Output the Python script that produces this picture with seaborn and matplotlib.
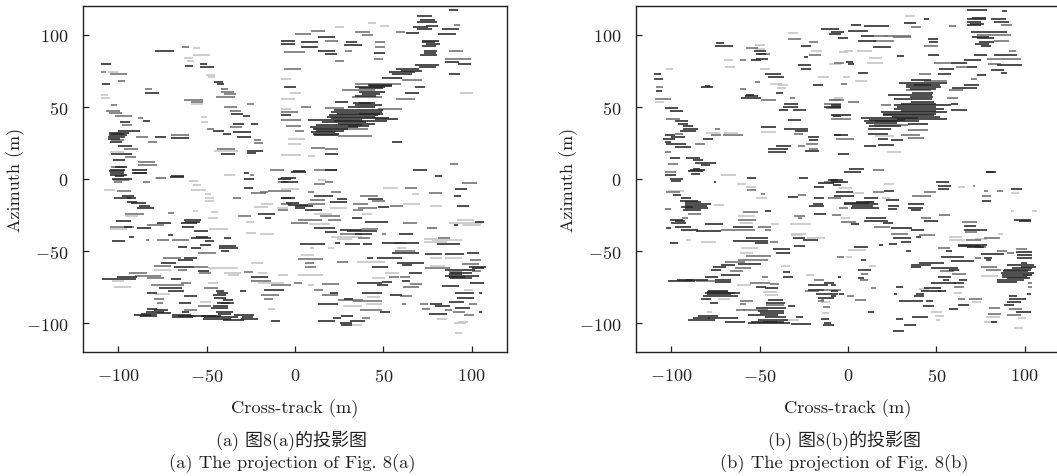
import matplotlib
matplotlib.use('Agg')
import matplotlib.pyplot as plt
import pandas as pd
import seaborn as sns

############
# Parameters
############
sns.set_theme(style='white')
plt.rcParams['font.family'] = ['cmr10', 'Noto Sans CJK SC', 'DejaVu Sans']
plt.rcParams['mathtext.fontset'] = 'cm'
plt.rcParams['axes.unicode_minus'] = True
plt.rcParams['axes.formatter.use_mathtext'] = True

X_LABEL = 'Cross-track (m)'
Y_LABEL = 'Azimuth (m)'
X_TICKS = [-100, -50, 0, 50, 100]
Y_TICKS = [-100, -50, 0, 50, 100]
CAPTION_CN = ['(a) 图8(a)的投影图', '(b) 图8(b)的投影图']
CAPTION_EN = ['(a) The projection of Fig. 8(a)', '(b) The projection of Fig. 8(b)']
TONES = {'light': '#c4c4c4', 'mid': '#6e6e6e', 'dark': '#262626'}

######################################
# Dashes: x0, x1, y
######################################
a_dark = [
(-110,-104,80),(-109,-105,66),(-79.5,-68.5,89),(-54,-50,80),(-62,-58,78.5),(-54,-46,78),(-46,-41,67.5),(-44,-40,66),
(-85,-77,60),(-36,-29.5,45),(-29.5,-25.5,44),(-35,-29,38),(-25,-21,38),(-46.5,-40,33.5),(-35,-25,32.5),(-41,-36,31.5),
(-33,-25,29),(-42,-34,17.5),(-27,-18,19.5),(-27,-22,18),(-99,-93.5,39.5),(-100,-88,33.5),(-105.5,-94,32),(-105.5,-95,30.5),
(-106,-96,29),(-106,-99,27.5),(-100,-92,22.6),(-104,-92,17),(-104.5,-96,6.5),(-104.5,-97,4.5),(-92,-84,4.5),(-102,-97,2),
(-70,-63,2),(-79,-73,29),(-70,-60,28.4),(-86,-82,40),(-8,0,93.7),(-8,0,95.4),(3.5,13,95),(13,22.5,98.4),(3.5,13,91.4),
(13,22.5,89),(17,23.5,86.8),(29,35,95),(28,38,93),(44.5,51,87.5),(63,70,101.4),(69,77.5,113.4),(69,80.5,108.7),(67,75.5,105.3),
(69,77.5,103.7),(83,93,104),(81,91,100.7),(87,92,117.3),(72,81.5,96),(74,82,93.8),(73,80.5,89),(71,80.5,85.7),(92,99.5,80),
(85,93,81),(87,93.5,73),(53,68,74),(57,70,76),(68,81.5,78.8),(49,60.5,70),(68,73.5,63.8),(62,70,59.8),(34,51,63.8),
(41.5,55,65.4),(36,51,60.3),(22.5,30,53.4),(34,49,51),(36,43,52.8),(20.5,49,46.5),(19,47,44.2),(20.5,53,42.3),(45,58.5,41.4),
(7.5,37.7,40.7),(24.5,45,38.4),(8.3,35.8,36),(9.2,22.5,32.6),(11,24.5,30.3),(54.8,60.5,25.7),(17,24.5,17.6),(67,74.7,6),
(-2,6.4,5),(79.5,83.2,2.2),(-6,0.7,63.8),(-8,-2,44.2),(-105.4,-97,5.4),(-104.5,-95,3),(-103.5,-92,-0.3),(-92,-83.6,6),(-91,-84.5,4),
(-70.7,-62.7,1.5),(-97.8,-91.2,-11.6),(-102.6,-93,-13.5),(-95,-89.3,-15.8),(-93,-84.5,-16.7),(-89.3,-79.8,-20),(-88.5,-82,-18.6),
(-101.6,-93,-29),(-78,-70.4,-30.3),(-97,-92,-33.3),(-89.3,-81.7,-34.3),(-62.7,-53.3,-28.5),(-64.7,-55.2,-30.3),(-63.7,-57,-33),
(-57,-49.5,-35.9),(-56,-49.5,-40),(-59,-47.6,-41),(-51,-45.7,-43),(-103.5,-96,-43),(-94,-91,-40.5),(-72,-69,-39),(-54,-47.6,-45.8),
(-66.5,-61,-47.2),(-59,-53.3,-48),(-42.8,-33.4,-46.2),(-42.8,-32.4,-48),(-42,-37.2,-49.7),(-40,-36,-40.7),(-62.7,-55.2,-54.6),
(-66.5,-58,-56),(-76,-67.5,-58),(-68.4,-57,-60.8),(-55,-48.5,-63.5),(-100.7,-89.3,-67.7),(-109,-107,-69.4),(-107,-90,-69.4),
(-70.4,-64.7,-69.6),(-77,-63.7,-75.8),(-72,-62.7,-77.4),(-83.6,-78,-78.8),(-62.7,-55.2,-81.5),(-65.6,-59,-85.7),(-44.8,-40,-77.4),
(-46.6,-39,-80.4),(-45.7,-39,-82.7),(-41,-35.3,-84),(-42,-34.3,-85.7),(-46.6,-38,-87.8),(-47.6,-38,-89.6),(-83.6,-78,-90.3),
(-84.6,-74,-92),(-87.4,-78,-93.5),(-91.2,-81.7,-94.2),(-78,-70.4,-93),(-69.4,-59,-94.2),(-63.7,-60,-92),(-69.4,-58,-96),
(-53.3,-42,-94.7),(-51.4,-32.4,-96),(-43.8,-36.2,-93.3),(-41,-28.6,-97.7),(-34.3,-23,-94.2),(-30.5,-21,-97),(-13.5,-8.7,-98.8),
(-24.8,-15.3,-67.7),(-17.3,-6,-77),(-31,-28,-77.4),(-21,-11.6,-24.6),(-17,-13.4,-27.3),(-28.6,-23,0),(-28.6,-24,-6.4),(-9.7,-2,-0.3),
(-8,-2,-13.5),(-29,-26,4.3),(-8,0.7,0.4),(-8,1.7,-2.4),(-1,5.5,5.4),(17,23.5,6),(90.8,97.5,-6.6),(90,94,-11.6),(11,21.6,-11.6),
(-8,-0.2,-13.5),(-4,7.4,-18),(0,5.5,-20.4),(5.5,15,-21.6),(19.7,29.2,-15.8),(23.5,29.2,-14),(41.5,50,-14),(47,53,-19.7),(91.7,98.4,-18.6),
(32,37.7,-27.3),(11,22.5,-33.8),(16.9,23.5,-36.6),(25.4,37.7,-35.4),(29.2,46.2,-36),(39.6,52.9,-29.6),(102,106.9,-29.6),(90,92.5,-32),
(34,43.4,-38.4),(58.6,67,-38.4),(2.6,16.9,-45),(28.2,36.8,-45),(38.6,43.4,-45),(22.5,25.4,-44.6),(49,70,-44.6),(80.4,93.6,-45.3),
(54.8,70,-51.6),(73.7,83.2,-51.8),(85,95.5,-52.3),(97.5,104,-51.6),(46.2,60.5,-54.6),(40.5,44.4,-54.6),(57.6,72.8,-58.5),(60.5,66,-59.6),
(43.4,52.9,-60.8),(98.4,107.9,-60.8),(85,102,-63),(64.3,71.8,-65.4),(85,104,-67),(87,94.6,-66),(87,96.5,-68),(60.5,65.2,-71),
(35,49,-72.3),(46.2,52.9,-73.5),(49,54.8,-71.2),(83,92.7,-74),(99.3,106.9,-72.3),(19.7,24.5,-79.2),(37.7,49,-78.8),(53.8,60.5,-80.4),
(90.8,101.2,-79.2),(91.7,101.2,-82.7),(104,106,-79),(87,95.5,-85),(76.6,83.2,-86.9),(79.5,88,-88),(13,24.5,-86.9),(28,33,-83.4),
(90.8,99.3,-89.6),(104,106,-92),(48,53.8,-92.4),(75.6,86,-93.8),(26.3,33,-95),(21.6,26.3,-96.5),(31,39.6,-98.8),(13,22.5,-98.4),
(25.4,32,-100),(26.3,32,-101.6),
(22,50,47.8),(24,48,45.3),(18,45,43.2),(22,52,40),(15,40,39.4),(12,38,37.2),(10,30,35),(12,28,33.5),(10,25,31.5),(30,42,37),
(36,50,45),(30,45,49.8),(33,45,53),(36,50,62.8),(38,48,59),(34,46,57.8),(42,55,64.5),(55,66,72.8),(60,72,75),(70,80,77.5),
(72,80,92),(73,80,87.5),(74,81,106.3),(71,79,110),(72,79,94.8),(-105,-98,25.5),(-104,-97,31),(-103,-96,13),(-102,-95,8),
(-60,-45,-95),(-52,-36,-97),(-45,-35,-92),(-80,-72,-91),(-88,-78,-95),(-66,-57,-95),(-44,-37,-86),(-44,-38,-79),(-30,-24,-96),
(-95,-90,-13),(-62,-54,-29.5),(100,107,-62),(88,100,-65.5),(88,100,-68.5),(0,10,-19),(-5,2,-16.5),
]
a_mid = [
(-110,-107,74.5),(-104.5,-95,73),(-100,-96,68),(-85,-81,62.5),(-64,-60,91.5),(-42,-38,62.5),(-42,-34.5,60.5),(-40,-33.5,59),
(-45,-34,57),(-63,-52,55),(-59,-52,53.5),(-27,-23,52),(-40,-33,50),(-37,-30.5,47.3),(-37,-30,36),(-50,-46,34.5),(-44,-34,21),
(-23,-19,27),(-23,-18,24.7),(-107,-99,47.5),(-104,-101,51),(-105.5,-98,45.7),(-102,-92,44),(-98,-92,37.7),(-104,-97,27),
(-97,-89,21),(-96,-90,15.2),(-89,-79,12),(-104,-96,8.5),(-89,-78,10),(-103,-94,-0.5),(-90,-83,29),(-83,-78,26),(-70,-60,30.7),
(-89,-86,42),(0,9,100.7),(9,17,103),(17,24.5,95.4),(-6,5.5,88.4),(28.5,32,89),(22.5,28,82),(44.5,50,83.4),(34,42.5,102.3),
(38,44,100),(45.5,51,95),(45.5,51,91.4),(57,62,101.8),(87,95,89),(85,99.5,83.4),(90,93.5,106.9),(-6,3.5,76.5),(-8,1.7,46.5),
(-8,3.5,40.7),(-5,3.5,36.7),(0,5,33),(3.5,9,50),(34,60,66),(26.5,45,62),(32,49,56.8),(57,68,55.7),(17,28,49.2),(47,60.5,48.8),
(60.5,72,68.4),(24.5,43.4,29.5),(11,41.5,34.5),(9,17,21.5),(17,24.5,20.6),(88,92.5,10.7),(11,23.5,6),(-102.6,-98,-2.4),(-86,-82,-2.4),
(-78.9,-73,0.4),(-100.7,-93,-8.4),(-96,-85.5,-24),(-83.6,-74,-32),(-104.5,-91,-33),(-72,-68.4,-23.4),(-78,-71.3,-42.3),(-84.5,-82.5,-42.3),
(-69.4,-60,-42.3),(-55,-44.8,-51.6),(-75,-64.6,-55),(-80,-70,-60),(-57,-49.5,-61.2),(-66.5,-61,-63),(-54.2,-47.6,-65.4),(-94,-83.6,-65.4),
(-90.3,-76,-67),(-83.6,-74,-68.4),(-81.7,-62.7,-73.5),(-64.7,-59,-72.3),(-79.8,-74,-83.2),(-78,-75,-86.2),(-51.4,-43.8,-75.3),(-55,-47.6,-88),
(-62.7,-55.2,-90.8),(-28.6,-24,-64.5),(-24.8,-13.5,-70.5),(-19,-9,-80.4),(-13.5,-2,-73.5),(-17.3,-12.5,-83.4),(-32.4,-25,-25.7),
(-35.3,-30.5,-13.5),(-25,-16.3,-10),(-20,-15.3,-8.9),(-15.3,-2,-8.4),(-14.4,-6,6),(-9.7,-4,-2.4),(-8,-2,-17),(-9.7,-4,-21.5),(-25.7,-23,3),
(11,17,-3.6),(17,21.6,-2.2),(7.4,11,-8.9),(94.6,103,-3),(62.4,69,-6),(75.6,83,-10),(20.5,26.3,-9),(8.3,16.9,-14.6),(7.4,17,-17.6),
(36.8,47.2,-11.6),(43.4,51,-15.3),(33,41.5,-17.6),(35.8,46.2,-20.4),(33,38.6,-21.6),(53.8,61.4,-18.8),(14,25.4,-25.7),(18.7,26.3,-28.5),
(1.7,15,-28.5),(-2,7.4,-30.8),(37.7,47.2,-35),(25.4,37.7,-38.4),(49,51.5,-38.4),(35.8,42.5,-41.2),(81,88,-40.7),(61.4,69,-30.8),
(74.7,80.5,-33.8),(56,63,-44.6),(56.6,68,-50),(1.7,15.9,-55.5),(94.6,104,-59),(99.3,105.2,-56.2),(100,105,-63.5),(5.5,11,-58.5),(5.5,12,-61.2),
(23.5,30,-57.6),(73.7,88,-61.5),(87,94.6,-64.5),(53,58.6,-68),(59.5,65,-68),(61.4,70,-74.6),(65,72,-73),(15,25,-73),(-0.5,4,-72.3),
(11,16,-76.7),(15,24.5,-80.4),(59.5,66,-81.5),(24.5,38.6,-83.9),(33,49,-84.5),(98.4,103,-87),(71,75,-86.6),(60.5,63,-87),(36.8,49,-90.8),
(85,89,-91.2),(72,76.6,-90.3),(89.7,96.5,-92.4),(95.5,101.2,-94.2),(37.7,42.5,-96.5),
]
a_light = [
(-106,-100,74.5),(-110,-106,58),(-110,-105,56.5),(-58,-54,90.7),(-58,-48,86),(-63,-58,84),(-61,-57,82),(-50.5,-45.5,72),(-49.5,-45.5,70.5),
(-59,-52,52),(-53,-50,43),(-53,-49.5,39.7),(-46,-32,19.5),(-105,-97,18.5),(-79,-74,0.5),(22.5,28,105.3),(41.5,46,108),(48,53,106),
(-4,5.5,28),(-4,3.5,24),(-8,3.5,16.5),(7.5,11.5,16),(93.6,101,59.6),(-3,3.5,60),(-8,-2,48.5),(-8,0,55.7),(-8,-2,69.5),(-60,-55,-1.5),
(-58,-53,-4.4),(-59,-50.4,-7.7),(-51,-47.5,-10.7),(-51,-45.7,-13.5),(-51,-45.7,-15.3),(-108,-102,-7.8),(-96,-89,-26),(-105,-95,-35),
(-48.5,-38,-35),(-47.5,-43.8,-22.7),(-49.5,-43.8,-27.3),(-58,-55,-22),(-80,-70,-63),(-49.5,-32.4,-62),(-40,-30.5,-65),(-38,-31.5,-66.5),
(-103.5,-97,-71),(-102.6,-93,-74.6),(-79,-71,-80),(-49.5,-43.8,-72.3),(-54,-47.6,-85),(-25,-18,-58.5),(-21,-16,-65),(-21,-6,-72.3),
(-9.7,-4,-66.7),(-15.3,-11.5,-90.3),(-28,-22,-37.6),(-20,-12,-38.3),(-28,-23,-30),(-23,-15.3,-19.3),(-19,-12.5,-17),(-40,-34,2.7),
(-10,-4,-20),(-8,2.5,-7),(13,17.7,-0.5),(50,58.5,-6),(66,70,-10.7),(19.7,29.2,-20),(11,21,-24),(37.7,43.4,-24),(61.4,70.9,-17.2),
(76.6,83.2,-18.8),(8,20,-31),(91.7,101.2,-28.5),(87,106,-30.8),(94.6,105,-32),(20.5,37.7,-40),(23.5,32,-41.6),(73,80.5,-41.5),
(77.5,94.6,-42),(73,86,-44),(8.3,11,-48),(18.7,22,-48),(57.6,63,-48),(1.7,15.9,-66.6),(3.5,11,-53),(76.6,83.2,-54.6),(85,94.6,-54.6),
(34.9,51,-57.6),(76.6,85,-60),(43.4,51,-68.4),(51,58.6,-65.4),(7.5,11,-73.5),(40.5,48,-81.7),(95.5,101,-77),(27,37.7,-87.8),
(40,49,-87),(92,98,-99),(80.4,86,-97),(90,97,-100),(90.8,94.5,-106.5),(32,38,-101.6),
]

######################################
# Dashes: x0, x1, y
######################################
b_dark = [
(-109.8,-105.6,72.8),(-109.8,-104.7,69.5),(-108.4,-105.5,60.7),(-83,-76.4,63.8),(-81,-78,64.5),(-75.5,-65,92.6),(-74.5,-70,94.2),
(-53,-46.3,89),(-52,-46.3,86.8),(-52,-45.4,83.4),(-54.8,-49,82.2),(-47.2,-37.8,73),(-45.4,-36,70.7),(-40.6,-36.9,59.6),(-58.5,-51,57.5),
(-60.4,-49,56.2),(-57.6,-53,58.5),(-36,-28.4,52.2),(-37,-28.4,50),(-38.8,-34,47.6),(-31.2,-23.7,47.6),(-34,-26.5,40.7),(-49,-40.6,36),
(-36,-22.8,35),(-30,-22.8,33.3),(-82,-76.4,27.5),(-22.8,-16.2,29.2),(-21.8,-17,27),(-24.6,-16.2,19.2),(-45.4,-34,21),(-45.4,-35,18.8),
(-40.6,-32.2,23),(-103.7,-96,49.2),(-100.9,-93.4,47),(-98,-90.5,40),(-96,-90.5,38.4),(-93.4,-87.7,36.8),(-93.4,-84.9,34.5),(-103.7,-98,30.3),
(-104.7,-98,28),(-103.7,-100,26),(-102.8,-91.5,24),(-98,-88.7,22.2),(-100.9,-95.2,14.6),(-91.5,-84,14.6),(-87.7,-82,13.5),(-86.8,-74.5,11.4),
(-83,-78.3,10),(-89.6,-81,6),(-87.7,-84,7),(-8.6,-4,44),(-7.7,-4,30.3),(-15.2,-4.9,104.1),(-10.5,-4,100.7),(-26.5,-20.9,92.6),(-25,-22.5,84.5),
(-28.4,-20.9,78.8),(-26.5,-20.9,76.5),(-20,-14.3,64.9),(-13.4,-4,50),(-9.6,-2,101.8),(-5.8,-0.2,97.7),(1.7,7.3,106.9),(-0.2,11.1,103),
(9.2,23.4,106),(7.3,14.9,99.5),(5.5,15.8,96),(14,24.3,91.9),(31.8,38.4,108.3),(43,46,111),(45,50.7,97.2),(46,50.7,95),(45,51.6,86.1),
(28,31.8,85.2),(67.6,78.9,117.5),(68.5,78,120),(67.6,78,111),(67.6,75.1,108.8),(67.6,75.1,106.5),(80.8,89.3,111),(82.7,91.1,109.2),
(87,90.2,116.8),(69.5,90.2,101.8),(73.3,82.7,97.7),(74.2,82.7,95),(75,81,92.6),(71.4,78.9,85.7),(82.7,95.9,85.7),(65.7,75.1,82.2),
(58.2,67.6,80.6),(84.5,98.7,78.8),(80.8,88.3,75.8),(86.4,90.2,73.7),(67.6,73,77.5),(51.6,60.1,76),(50.7,58.2,73),(73.3,78,72.3),
(35.6,46.9,68.4),(29,56.3,66.8),(32.8,52.5,63.8),(37.5,47,65.4),(65.7,74.2,64.9),(59.1,73.3,63),(35.6,47.8,58),(22.4,35.6,58),(26.2,47.8,55.7),
(35.6,48.8,53.4),(58.2,62,52),(26.2,58.2,51),(26.2,54.4,48.8),(58.2,67.6,47.6),(18.6,56.3,46.5),(19.6,48.8,44.2),(7.3,39.4,42.3),(9.2,28,40),
(28,56.3,41.8),(33.7,45,38.4),(11.1,24.3,34.9),(11.1,22.4,31.5),(16.8,22.4,27.5),(24.3,30.9,26.8),(16.8,26.2,23.4),(9.2,15.8,22.7),
(-7.7,-0.2,30.3),(-5.8,0.8,17.6),(-9.6,-4,51.5),(-9.6,-4,49.8),(-9.6,1.7,44.2),(0.8,9.2,7.2),(-2,7.3,5),(78,82.7,5),(-1,3,81),(0,3.5,79.5),
(5.5,11.1,73.7),(-103.7,-97.1,3.1),(-100.9,-93.4,0.3),(-100,-94.3,-1.5),(-90.5,-82,5.4),(-88.7,-84,3.8),(-76,-74.5,-2.4),(-57,-52,0.4),
(-27.5,-22.8,0.4),(-99,-94.3,-11),(-94.3,-88.7,-13.5),(-95.2,-84.9,-15),(-92.4,-77.4,-17),(-94.3,-87.7,-19.3),(-92.4,-79.2,-20.4),(-93.4,-83,-21.6),
(-100.9,-93.4,-28.5),(-100,-91.5,-30.3),(-102.8,-100,-34.3),(-98,-88.7,-33),(-94.3,-84.9,-35.4),(-81.1,-70.8,-31.5),(-85.8,-71.7,-36),
(-65.1,-53.8,-33.6),(-47.2,-43.5,-22.3),(-100.9,-96.2,-44.6),(-65.1,-45.4,-42.8),(-57.6,-45.4,-41.2),(-52.9,-45.4,-44.6),(-31.2,-24.6,-41.2),
(-25.6,-17.1,-42.4),(-30.3,-24.6,-46.2),(-42.5,-33.1,-48.8),(-40.6,-33.1,-51),(-71.7,-64.2,-59.6),(-62.3,-49,-59.2),(-76.4,-68.9,-61.2),
(-77.4,-71.7,-63),(-71.7,-61.4,-66.6),(-81.1,-73.6,-67.7),(-101.8,-86.8,-70.7),(-91.5,-79.2,-70),(-75.5,-66.1,-70),(-75.5,-66.1,-71.6),
(-36.9,-33.1,-64.7),(-36.9,-31.2,-68.2),(-52,-46.3,-74.6),(-47.2,-39.7,-75.3),(-79.2,-67.9,-77.6),(-81.1,-64.2,-79.2),(-82,-62.3,-80.9),
(-68,-61.4,-79.2),(-83,-77.4,-83.2),(-78.3,-73.6,-86.2),(-45.4,-37,-83.9),(-46.3,-35.9,-85.7),(-52,-35,-89.6),(-34,-30,-88.4),(-51,-36,-91.9),
(-56.6,-39.7,-94.2),(-47.2,-35,-95.8),(-84.9,-73.6,-95),(-90.5,-75.5,-97.7),(-79.2,-62.3,-96.5),(-69.8,-58.5,-98.9),(-56.6,-33.1,-100),
(-51,-34,-97.7),(-32.2,-20.9,-100.7),(-29.3,-25.6,-95.4),(-15.2,-10.5,-97.2),(-14.3,-7.7,-101.6),(-13.4,-9.6,-100),(-22.8,-11.5,-73.5),
(-13.4,-7.7,-72.3),(-22.8,-13.4,-77),(-18,-5.8,-80),(-17,-11.5,-82.3),(-11.5,-7.7,-82.3),(-19,-13.4,-13.5),(-21.8,-13.4,-18.6),(-20,-14.3,-17),
(-19,-12.4,-24),(-34,-28.4,-12.3),(-17,-7.7,-3.1),(-19,-13.4,-5.4),(-11.5,-5.8,-0.8),(-9.6,-3,-0.8),(-9.6,-0.2,-2.4),(-8.6,-4,-4.3),
(49.7,57.2,-2.4),(50.7,58.2,-4.7),(50.7,57.2,-7),(78,83.6,5),(20.5,26.2,-8.4),(-6.8,2.6,-8.9),(-7.7,3.6,-11.6),(9.2,16.8,-13.5),(4.5,14.9,-15.8),
(-2,16.8,-17.6),(21.5,29,-14.6),(22.4,29,-18.6),(22.4,28,-20.9),(1.7,17.7,-20),(33.7,43.1,-17.6),(33.7,42.2,-20),(35.6,41.2,-21.6),
(43.1,50.7,-29),(10.2,21.5,-26.9),(9.2,22.4,-29.2),(19.6,25.2,-30.8),(1.7,6.4,-31.5),(24.3,36.5,-34.3),(35.6,43.1,-35.4),(25.2,35.6,-41.2),
(30,35.6,-43.5),(23.4,28,-45),(32.8,35.6,-49.7),(38.4,41.2,-40),(3.6,11.1,-47.4),(17.7,19.6,-45.8),(7.3,10.2,-56.2),(5.5,13,-63),(5.5,9.2,-68.4),
(-5.8,-4,-68.2),(-9.6,-6.8,-73.5),(-9.6,-5.8,-78),(-9.6,-6.8,-81.5),(-4.9,-2,-80),(27,30.9,-75),(26.2,28,-80),(29,42.2,-84.3),(44,48,-84.5),
(42.2,48.8,-88),(11.1,14.9,-92.6),(27,30.9,-97),(36.5,45,-95.4),(31.8,38.4,-101.6),(25.2,31.8,-105.7),(65.7,72.3,-32.4),(65.7,78.9,-35.4),
(62,78.9,-45.8),(67.6,77,-47),(55.4,59.1,-49.7),(75.1,88.3,-52.3),(52.5,65.7,-53.9),(58.2,71.4,-56.6),(77,81.7,-54.6),(78,80.8,-56.2),
(35.6,46.9,-59.6),(35.6,41.2,-60.8),(40.3,54.4,-58.5),(46.9,62,-61.5),(57.2,62.9,-63),(50.7,58.2,-67.7),(53.5,57.2,-70),(62.9,67.6,-70),
(60,65.7,-72.3),(46.9,61,-72.3),(43.1,52.5,-75.3),(41.2,52.5,-77.6),(50.7,55.4,-78),(38.4,43.1,-80),(37.5,43.1,-81),(62,68.5,-87.3),(57.2,62,-90.3),
(80.8,84.5,-99.3),(91.1,100.6,-83.2),(90.2,97.7,-85),(88.3,94,-87.3),(95,103.4,-92.6),(101.5,103.4,-80),(91.1,95.9,-81),(95,104.3,-50.4),
(95.9,104.3,-52.7),(95.9,104.3,-55),(90.2,105.3,-59.6),(97.7,106.2,-60.8),(88.3,103.4,-63),(86.4,105.3,-65.4),(87.4,101.5,-67.7),(84.5,99.6,-70),
(84.5,95.9,-71.6),(97.7,101.5,-58.5),(94,103.4,-28.5),(96.8,103.4,-29.2),(92,98.7,-7),(76,81,-15),
(20,50,45.3),(25,52,43),(12,32,41),(10,28,38.8),(12,30,36.5),(28,50,49.8),(30,50,47.5),(30,50,52.3),(35,48,56.8),(36,48,59.5),
(33,52,65.5),(35,50,62.7),(15,40,40.5),(70,80,98.5),(72,80,93.8),(70,78,112),(69,77,107.6),(88,102,-64),(87,104,-66.5),(90,103,-69),
(93,104,-62),(-50,-36,-93),(-48,-36,-99),(-55,-40,-99),(-88,-78,-96.5),(-80,-66,-80),(-80,-68,-78.5),(-97,-88,-70.2),(-100,-92,29),
(-95,-86,33.5),(-92,-83,-16),(-92,-80,-18.6),(-98,-92,-29.3),(-2,12,-16.5),(2,14,-19),(62,75,-46.8),
]
b_mid = [
(-108.4,-104.7,63.8),(-109.4,-100,55.2),(-57.6,-51,91),(-51,-44.4,87),(-61.4,-57.6,82.2),(-52.9,-50,67),(-61.4,-57.6,62.5),(-33,-30,56.4),
(-49,-41,55),(-102.8,-95.2,41.8),(-98,-93.4,31.5),(-77.4,-71.7,30.8),(-70.8,-59.5,30.8),(-75.5,-72.6,34.5),(-30.3,-25.6,31.5),(-28.4,-24.6,22.7),
(-23.7,-17,24),(-21.8,-17,21),(-86.8,-81,24),(-103.7,-100,19),(-101.8,-96,10.2),(-103.7,-97.1,4.8),(-34,-26.5,97.2),(-21.8,-17,94.9),
(-21.8,-15.2,85.7),(-10.5,-4,54.5),(-13.4,-4,52.2),(-12.5,-4,49),(14.9,22.4,99.5),(14.9,26.2,95.4),(20.5,35.6,99.5),(25.2,35.6,98.4),(35.6,41.2,105.3),
(43,50.7,92.6),(57.4,61,105.8),(73.3,92,100),(86.4,93,106.9),(82.7,91.1,96),(91,95,89),(78.9,97.7,83.4),(79,86.4,80),(48.8,58.2,80.6),
(61,67.6,77.5),(69.5,73.3,69.5),(40.3,46.9,72.5),(43,56.3,67.7),(32.8,46.9,61.5),(57.2,64.9,61.5),(56.3,62,56),(18.6,24.3,51.5),(14.9,33.7,37.2),
(33.7,45,33.8),(30,41,30.3),(34,43,28.5),(-7,3.5,27.4),(-9.6,-2,54.5),(-0.2,6.4,53.4),(-9.6,1.7,41.8),(14,20.5,6),(-7.7,-2,80.6),(-4,-0.5,66),
(-57,-52,-7.7),(-49,-47,-10.7),(-102.8,-95.2,-9.3),(-103.7,-100,-21),(-94,-90.5,-27),(-90.5,-83,-24),(-59.5,-51,-23.2),(-62.3,-52,-28.5),
(-71.7,-52.9,-35.4),(-51,-43.5,-33),(-47,-43.5,-35.4),(-44.4,-39.7,-44),(-57.6,-43.5,-53.2),(-62.3,-45.4,-56.2),(-69.8,-58.5,-57.3),
(-64,-54.8,-61.5),(-67,-59.5,-63.8),(-48.9,-45.4,-67.7),(-86,-75.5,-70.5),(-55.7,-44.4,-72.3),(-44.4,-38.8,-73),(-61.4,-53.8,-84.6),(-61.4,-57.6,-87),
(-46.3,-36,-87.4),(-59.5,-45.4,-91.2),(-63.2,-58.5,-91),(-15.2,-13.4,-84),(-17,-13.4,-84.6),(-13.4,-4,-76.7),(-14,-10,-89),(-24.6,-16.2,-78),
(-19,-13.4,-70),(-28.4,-23.7,-11.3),(-30.3,-24.6,-25.5),(-28.4,-26,-27.3),(-11.5,-4,-13.5),(-13.4,-4,-2),(-9,-4,-25),(43.1,50,-9.3),(36.5,47,-12),
(14,20.5,-9.3),(9,14,-16),(-5,0,-20),(-4,4.5,-30),(41.2,46.9,-26.8),(51.6,58,-25),(24.3,33.7,-38.4),(14.5,24,-33),(40,49,-39),(64.8,73.2,-29.6),
(66.5,73.2,-36.6),(77,86,-41),(84.5,90.2,-50),(72,78,-47.5),(51,58,-48),(72,75.5,-54.5),(75.1,84.5,-60.8),(78,86.4,-63),(52,60,-63.8),(59,67,-66),
(60,65.7,-74.7),(68.5,76.1,-83.4),(62,66.5,-83),(80,86,-89.5),(79,86.4,-93.8),(91.1,98.7,-90),(90.2,97.7,-94),(102,104.3,-72.3),(102,104.3,-75),
(95,101.5,-48.8),(90.2,93.9,-51.6),(99,104,-66.5),(67,75,-42),(77,79,-8),(76,81,-12),(84.5,88,-8),(71,72,-5),(-6,-2,-54),(7.5,11.1,-65.8),
(7,11.5,-70),(13,16,-75.5),(4,10,-84),(-0.5,3.5,-81),
]
b_light = [
(-103,-99,76),(-109.4,-104,53.4),(-70,-65,82.2),(-69.5,-64,78),(-50,-44,76),(-44,-37.5,66),(-39.5,-34,65.5),(-40,-35,63),(-52.5,-47,90.5),
(-52.5,-47,93),(-49,-41,32.5),(-80.2,-72.6,32),(-70,-62,32),(-34,-28.5,101),(-21,-15,88.5),(-10.5,-4,80),(-17,-11,71),(-5,0,88),
(-8,-3,56),(4,11,68),(32,38,113),(-2,3,89),(5,13.5,89),(-3,1,71),(11.9,19.5,84),(11,20,80.7),(15,26,30),(22,30,19),(3,9,-10),
(-71.8,-63.2,3),(-63,-58,-3.6),(-58,-52,-5.5),(-52,-46,-13),(-102,-93,-8),(-76,-70,-18),(-62,-52.9,-26),(-61.4,-54,-30.8),(-43.5,-39,-31),
(-33,-28,-31),(-28.4,-20.9,-31),(-91.5,-89,-42),(-83,-75,-44),(-23,-13,-41),(-60.4,-51,-48),(-61.4,-54,-51),(-38,-33,-60.3),(-63,-55,-73.5),
(-24,-19,-66.7),(-48,-40,-78.5),(-47,-39.7,-80.4),(-73.6,-67,-83.4),(-80,-77,-92),(-15.2,-10,-85),(-36,-28,-98),(-32,-26,-38.7),(-32,-24,-38.3),
(20.5,26,-3.6),(62,66.5,-5.7),(19,24,-13),(-5,2,-6),(92.5,97,-10),(92,94,-22.5),(104,107,-22.5),(-4,1,-27),(57.2,64.8,-40.5),(57.2,66,-42.4),
(72,78.9,-41.6),(85,88,-38),(0,3,-49),(2,10,-49),(-1,2,-54),(12,16,-60),(75,85,-67),(40,46,-76),(60,64.5,-79),(70,75,-85),(47,53,-92.5),
(49,54.5,-95),(50,52,-98),(96,101,-96.5),(94,99,-103.5),(77,84,-99),(78,86,-96),(-15,-11,-93),
]


def build_frame(dark, mid, light):
    rows = []
    seg = 0
    for tone, dashes in (('light', light), ('mid', mid), ('dark', dark)):
        for x0, x1, y in dashes:
            rows.append({'x': x0, 'y': y, 'tone': tone, 'seg': seg})
            rows.append({'x': x1, 'y': y, 'tone': tone, 'seg': seg})
            seg += 1
    return pd.DataFrame(rows)


###########
# Figure
###########
W, H = 1057, 477
fig = plt.figure(figsize=(W / 100, H / 100), dpi=100)
boxes = [(83, 424, 292), (636, 424, 844)]
frames = [build_frame(a_dark, a_mid, a_light), build_frame(b_dark, b_mid, b_light)]

for i, ((left, width, cap_x), df) in enumerate(zip(boxes, frames)):
    ax = fig.add_axes([left / W, 1 - 353 / H, width / W, 346 / H])
    sns.lineplot(data=df, x='x', y='y', units='seg', estimator=None, hue='tone',
                 hue_order=['light', 'mid', 'dark'], palette=TONES, linewidth=1.15,
                 solid_capstyle='butt', legend=False, ax=ax)
    ax.set_xlim(-120, 120)
    ax.set_ylim(-120, 120)
    ax.set_xticks(X_TICKS)
    ax.set_yticks(Y_TICKS)
    ax.set_xticklabels([f'${t}$' for t in X_TICKS], fontsize=13)
    ax.set_yticklabels([f'${t}$' for t in Y_TICKS], fontsize=13)
    ax.tick_params(direction='in', length=4, width=0.9, color='#222222', labelcolor='#222222', pad=10.5,
                   bottom=True, left=True, top=False, right=False)
    ax.set_xlabel(X_LABEL, fontsize=13.3, color='#222222')
    ax.set_ylabel(Y_LABEL, fontsize=13, color='#222222')
    ax.xaxis.set_label_coords(0.5, -(399 - 353) / 346)
    ax.yaxis.set_label_coords(-(83 - 25) / 424, 0.5)
    for spine in ax.spines.values():
        spine.set_color('#222222')
        spine.set_linewidth(1.0)
    fig.text(cap_x / W, 1 - 441 / H, CAPTION_CN[i], ha='center', va='center', fontsize=13, color='#222222')
    fig.text(cap_x / W, 1 - 464 / H, CAPTION_EN[i], ha='center', va='center', fontsize=13.4, color='#222222')

fig.savefig('out.png', dpi=100)
